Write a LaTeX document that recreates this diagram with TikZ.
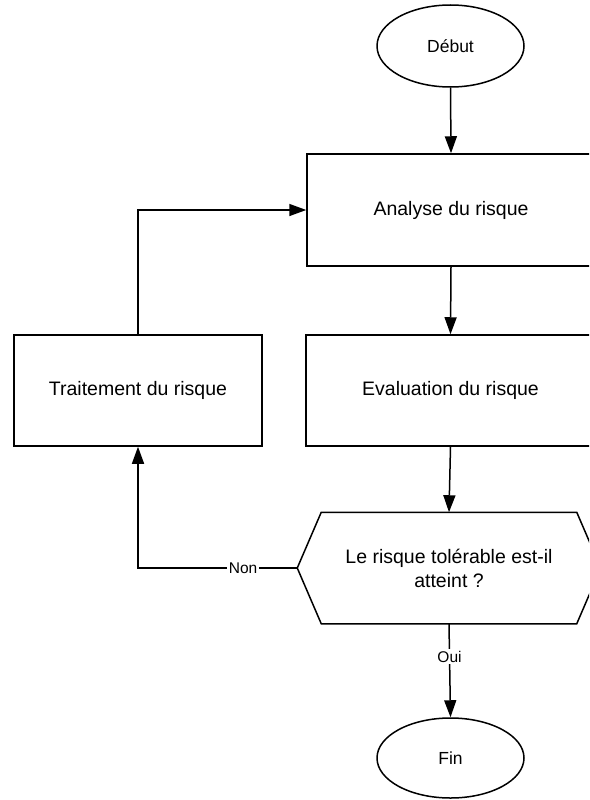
\documentclass[tikz,border=0pt]{standalone}
\usepackage{fontspec}
\setmainfont{Liberation Sans}
\usetikzlibrary{shapes.geometric,arrows.meta,calc}
\tikzset{
  every picture/.style={line width=1.5pt},
  boxtxt/.style={font=\fontsize{19.5}{24}\selectfont},
  procbox/.style={draw, rectangle, inner sep=0pt, boxtxt},
  term/.style={draw, ellipse, inner sep=0pt, minimum width=147pt, font=\fontsize{17.5}{21}\selectfont},
  arr/.style={-{Triangle[length=17pt,width=12pt]}},
  lbl/.style={fill=white, inner sep=2pt, font=\fontsize{15.5}{18}\selectfont},
}
\begin{document}
\begin{tikzpicture}[x=1pt,y=1pt]
\useasboundingbox (0,0) rectangle (589,-800);
\clip (0,0) rectangle (589,-800);
\fill[white] (0,0) rectangle (589,-800);

\node[term, minimum height=82pt] (debut) at (450.5,-46) {Début};
\node[procbox, minimum width=288pt, minimum height=112pt] (analyse) at (451,-210) {Analyse du risque};
\node[procbox, minimum width=289pt, minimum height=111pt] (eval) at (450.5,-390.5) {Evaluation du risque};
\node[procbox, minimum width=248pt, minimum height=111pt] (trait) at (138,-390.5) {Traitement du risque};
\node[boxtxt, align=center, minimum width=302pt, minimum height=110pt, inner sep=0pt] (hex) at (449,-568) {Le risque tolérable est-il\\atteint ?};
\draw ($(hex.north west)+(24,0)$) -- ($(hex.north east)+(-24,0)$) -- (hex.east)
  -- ($(hex.south east)+(-24,0)$) -- ($(hex.south west)+(24,0)$) -- (hex.west) -- cycle;
\node[term, minimum height=80pt] (fin) at (450.5,-758) {Fin};

\draw[arr] (debut.south) -- (analyse.north);
\draw[arr] (analyse.south) -- (eval.north);
\draw[arr] (eval.south) -- (hex.north);
\draw[arr] (trait.north) |- (analyse.west);
\draw[arr] (hex.west) -| node[lbl, pos=0.17] {Non} (trait.south);
\draw[arr] (hex.south) -- node[lbl, pos=0.35] {Oui} (fin.north);
\end{tikzpicture}
\end{document}
